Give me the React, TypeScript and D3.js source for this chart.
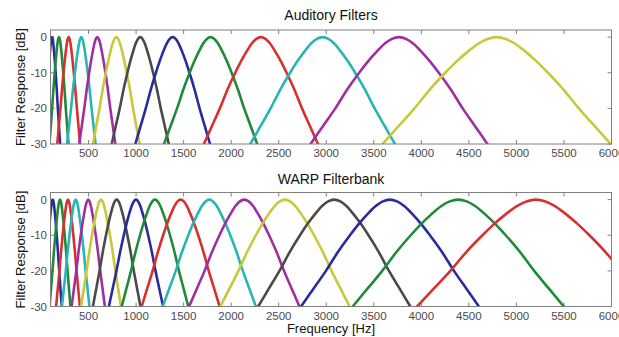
import { useEffect, useRef } from 'react';
import * as d3 from 'd3';

// filter centre frequencies [Hz] and half widths at -30 dB [Hz]
const auditoryCenters = [116, 189, 291, 424, 592, 792, 1044, 1385, 1784, 2313, 2962, 3765, 4792];
const auditoryHalfWidths = [85, 100, 120, 150, 190, 245, 300, 393, 490, 600, 760, 930, 1200];

const warpCenters = [123, 200, 284, 365, 497, 631, 796, 999, 1199, 1469, 1770, 2138, 2566, 3084, 3670, 4388, 5205];
const warpHalfWidths = [95, 110, 125, 145, 175, 210, 250, 285, 350, 410, 490, 580, 680, 800, 935, 1110, 1250];

// one side of a filter response, as offset from centre (fraction of half width) and dB
const profileOffsets = [0, 0.08, 0.16, 0.25, 0.35, 0.45, 0.58, 0.72, 0.86, 1, 1.3];
const profileDb = [0, -0.5, -1.8, -4.0, -6.8, -10, -14.5, -20, -25, -30, -41];

const xTicks = [500, 1000, 1500, 2000, 2500, 3000, 3500, 4000, 4500, 5000, 5500, 6000];
const yTicks = [0, -10, -20, -30];

const lineColors = ['#2b2b9c', '#1f8a3a', '#d8302f', '#2ab5b5', '#a02ea0', '#c8c83a', '#4a4a4a'];

const FONT = '"Liberation Sans", Arial, sans-serif';

function filterPoints(fc: number, hw: number): [number, number][] {
  const left = profileOffsets.slice(1).reverse().map((o, i) => [fc - o * hw, profileDb[profileOffsets.length - 1 - i]] as [number, number]);
  const right = profileOffsets.map((o, i) => [fc + o * hw, profileDb[i]] as [number, number]);
  return [...left, ...right];
}

export default function App() {
  const svgRef = useRef<SVGSVGElement | null>(null);

  useEffect(() => {
    if (!svgRef.current) return;
    const svg = d3.select(svgRef.current);
    svg.selectAll('*').remove();

    const x = d3.scaleLinear().domain([100, 6000]).range([50.5, 611.5]);

    const panels = [
      { title: 'Auditory Filters', centers: auditoryCenters, widths: auditoryHalfWidths, top: 30, bottom: 144, titleY: 20, xLabel: false },
      { title: 'WARP Filterbank', centers: warpCenters, widths: warpHalfWidths, top: 192.5, bottom: 306.5, titleY: 184, xLabel: true }
    ];

    panels.forEach((p, pi) => {
      const y = d3.scaleLinear().domain([-30, 2]).range([p.bottom, p.top]);
      const g = svg.append('g');
      const clipId = `clip-${pi}`;

      g.append('clipPath').attr('id', clipId)
        .append('rect')
        .attr('x', x.range()[0]).attr('y', p.top)
        .attr('width', x.range()[1] - x.range()[0]).attr('height', p.bottom - p.top);

      // ticks, inward on all four sides
      const tickLen = 4;
      xTicks.forEach(t => {
        g.append('line').attr('x1', x(t)).attr('x2', x(t)).attr('y1', p.bottom).attr('y2', p.bottom - tickLen)
          .attr('stroke', '#808080');
        g.append('line').attr('x1', x(t)).attr('x2', x(t)).attr('y1', p.top).attr('y2', p.top + tickLen)
          .attr('stroke', '#808080');
        g.append('text').attr('x', x(t)).attr('y', p.bottom + 13)
          .attr('text-anchor', 'middle').attr('font-size', 11.5).attr('font-family', FONT).attr('fill', '#4a4a4a')
          .text(t);
      });
      yTicks.forEach(t => {
        g.append('line').attr('x1', x.range()[0]).attr('x2', x.range()[0] + tickLen).attr('y1', y(t)).attr('y2', y(t))
          .attr('stroke', '#808080');
        g.append('line').attr('x1', x.range()[1]).attr('x2', x.range()[1] - tickLen).attr('y1', y(t)).attr('y2', y(t))
          .attr('stroke', '#808080');
        g.append('text').attr('x', 47).attr('y', y(t) + 4)
          .attr('text-anchor', 'end').attr('font-size', 11.5).attr('font-family', FONT).attr('fill', '#4a4a4a')
          .text(t);
      });

      const line = d3.line<[number, number]>()
        .x(d => x(d[0]))
        .y(d => y(d[1]))
        .curve(d3.curveMonotoneX);

      const curves = g.append('g').attr('clip-path', `url(#${clipId})`);
      p.centers.forEach((fc, i) => {
        curves.append('path')
          .attr('d', line(filterPoints(fc, p.widths[i])))
          .attr('fill', 'none')
          .attr('stroke', lineColors[i % lineColors.length])
          .attr('stroke-width', 2.6)
          .attr('stroke-linejoin', 'round');
      });

      g.append('rect')
        .attr('x', x.range()[0]).attr('y', p.top)
        .attr('width', x.range()[1] - x.range()[0]).attr('height', p.bottom - p.top)
        .attr('fill', 'none').attr('stroke', '#808080');

      g.append('text').attr('x', 331).attr('y', p.titleY)
        .attr('text-anchor', 'middle').attr('font-size', 14).attr('font-family', FONT).attr('fill', '#111')
        .text(p.title);

      g.append('text')
        .attr('transform', `translate(25,${(p.top + p.bottom) / 2}) rotate(-90)`)
        .attr('text-anchor', 'middle').attr('font-size', 13).attr('font-family', FONT).attr('fill', '#111')
        .text('Filter Response [dB]');

      if (p.xLabel) {
        g.append('text').attr('x', 331).attr('y', 333)
          .attr('text-anchor', 'middle').attr('font-size', 13).attr('font-family', FONT).attr('fill', '#111')
          .text('Frequency [Hz]');
      }
    });
  }, []);

  return (
    <svg ref={svgRef} width={619} height={337}
      style={{ position: 'absolute', left: 0, top: 0, background: '#fff' }} />
  );
}
